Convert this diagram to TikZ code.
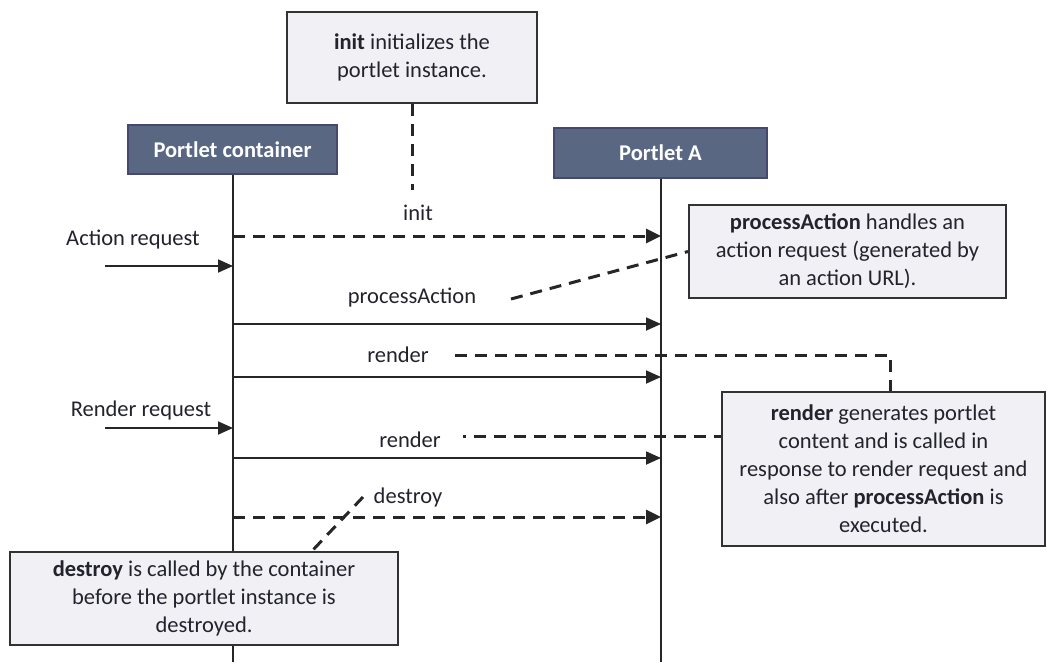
\documentclass[tikz,border=0pt]{standalone}
\usepackage{fontspec}
\setmainfont{Carlito}
\usetikzlibrary{arrows.meta}
\definecolor{hdrfill}{RGB}{89,103,131}
\definecolor{hdrdraw}{RGB}{70,72,110}
\definecolor{notefill}{RGB}{241,240,244}
\definecolor{notedraw}{RGB}{50,50,50}
\definecolor{txt}{RGB}{35,35,45}
\tikzset{
  hdr/.style={draw=hdrdraw, line width=1.2pt, fill=hdrfill, text=white, font=\bfseries, inner sep=0pt},
  note/.style={draw=notedraw, line width=2pt, fill=notefill, text=txt, align=center, inner sep=0pt},
  lbl/.style={text=txt, inner sep=0pt},
  life/.style={line width=1.8pt, draw=black!85},
  msg/.style={line width=1.8pt, draw=black!85, -{Triangle[length=15pt,width=13pt]}},
  dmsg/.style={line width=3pt, draw=black!85, dash pattern=on 12pt off 8pt, -{Triangle[length=15pt,width=14pt]}},
  link/.style={line width=3pt, draw=black!85, dash pattern=on 12pt off 8pt}
}
\begin{document}
\begin{tikzpicture}[x=1pt,y=-1pt]
\fontsize{22.5pt}{28pt}\selectfont
\useasboundingbox[fill=white] (0,0) rectangle (1047,662);

% headers
\node[hdr, minimum width=209pt, minimum height=49pt] (pc) at (232.5,149.5) {Portlet container};
\node[hdr, minimum width=213pt, minimum height=50pt] (pa) at (660.5,153) {Portlet A};

% lifelines
\coordinate (pcend) at (233,662);
\coordinate (paend) at (661,662);
\draw[life] (pc.south -| 233,0) -- (pcend);
\draw[life] (pa.south -| 661,0) -- (paend);

% notes
\node[note, minimum width=250pt, minimum height=91pt] (ninit) at (412,57.5)
  {\textbf{init} initializes the\\portlet instance.};
\node[note, minimum width=317pt, minimum height=93pt] (npa) at (847.5,251.5)
  {\textbf{processAction} handles an\\action request (generated by\\an action URL).};
\node[note, minimum width=323pt, minimum height=154pt] (nrender) at (883.5,469)
  {\textbf{render} generates portlet\\content and is called in\\response to render request and\\also after \textbf{processAction} is\\executed.};
\node[note, minimum width=388pt, minimum height=93pt] (ndestroy) at (204,598.5)
  {\textbf{destroy} is called by the container\\before the portlet instance is\\destroyed.};

% labels
\node[lbl] (linit) at (418,213) {init};
\node[lbl] (lact) at (133,240) {Action request};
\node[lbl] (lpa) at (412,298) {processAction};
\node[lbl] (lr1) at (398,355) {render};
\node[lbl] (lrr) at (141,410) {Render request};
\node[lbl] (lr2) at (410,440) {render};
\node[lbl] (ld) at (408,497) {destroy};

% message endpoints
\coordinate (a1) at (233,236); \coordinate (b1) at (661,236);
\coordinate (a2) at (233,324); \coordinate (b2) at (661,324);
\coordinate (a3) at (233,377); \coordinate (b3) at (661,377);
\coordinate (a4) at (233,458); \coordinate (b4) at (661,458);
\coordinate (a5) at (233,517); \coordinate (b5) at (661,517);
\coordinate (ar1) at (105,266); \coordinate (ar1e) at (233,266);
\coordinate (ar2) at (105,428); \coordinate (ar2e) at (233,428);

\draw[dmsg] (a1) -- (b1);
\draw[msg] (a2) -- (b2);
\draw[msg] (a3) -- (b3);
\draw[msg] (a4) -- (b4);
\draw[dmsg] (a5) -- (b5);
\draw[msg] (ar1) -- (ar1e);
\draw[msg] (ar2) -- (ar2e);

% links to notes
\coordinate (kinit) at (412,190);
\draw[link] (ninit.south) -- (kinit);
\coordinate (kpa) at (511,299);
\draw[link] (kpa) -- (npa.west);
\coordinate (kr1) at (455,355);
\draw[link] (kr1) -- (890,355) -- (nrender.north -| 890,0);
\coordinate (kr2) at (474,436);
\coordinate (kr2dot) at (463,436);
\draw[line width=3pt, draw=black!85] (kr2dot) -- ++(3,0);
\draw[link] (kr2) -- (nrender.west |- kr2);
\coordinate (kd) at (363,497);
\draw[link] (kd) -- (ndestroy.north -| 312,0);
\end{tikzpicture}
\end{document}
